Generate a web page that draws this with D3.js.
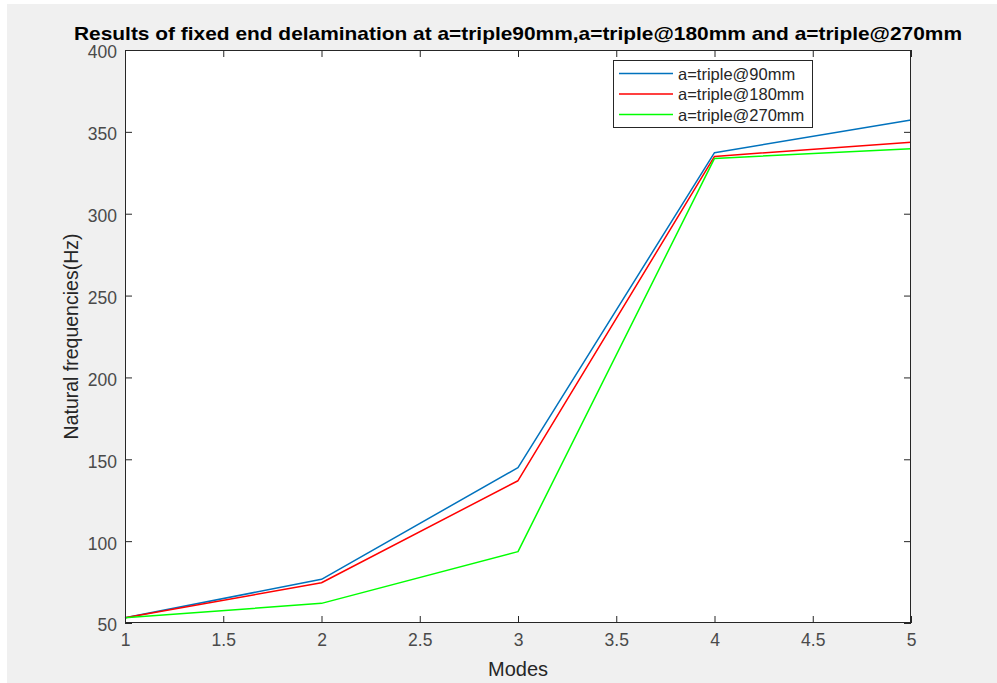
<!DOCTYPE html>
<html>
<head>
<meta charset="utf-8">
<script src="https://cdn.jsdelivr.net/npm/d3@7"></script>
<style>
  html, body { margin: 0; padding: 0; background: #ffffff; }
  svg { display: block; }
  text { font-family: "Liberation Sans", Arial, Helvetica, sans-serif; }
</style>
</head>
<body>
<svg id="chart" width="997" height="683"></svg>
<script>
// Mode numbers on the x axis
const modes = [1, 2, 3, 4, 5];
// Natural frequencies (Hz) per delamination position
const triple90  = [53.2, 76.7, 144.9, 337.3, 357.3];
const triple180 = [53.2, 74.6, 136.9, 335.0, 343.6];
const triple270 = [53.2, 62.0, 93.6, 333.8, 339.7];
const seriesNames = ["a=triple@90mm", "a=triple@180mm", "a=triple@270mm"];
const seriesColors = ["#0072bd", "#ff0000", "#00ff00"];
const xTicks = [1, 1.5, 2, 2.5, 3, 3.5, 4, 4.5, 5];
const yTicks = [50, 100, 150, 200, 250, 300, 350, 400];

const titleText = "Results of fixed end delamination at a=triple90mm,a=triple@180mm and a=triple@270mm";
const xLabel = "Modes";
const yLabel = "Natural frequencies(Hz)";

const W = 997, H = 683;
const plot = { left: 125, top: 50, right: 911, bottom: 623 };
const svg = d3.select("#chart");

// figure background
svg.append("rect").attr("x", 7).attr("y", 4).attr("width", W - 7).attr("height", H - 4).attr("fill", "#f0f0f0");

const x = d3.scaleLinear().domain([1, 5]).range([plot.left, plot.right]);
const y = d3.scaleLinear().domain([50, 400]).range([plot.bottom, plot.top]);

// axes area
svg.append("rect")
  .attr("x", plot.left).attr("y", plot.top)
  .attr("width", plot.right - plot.left).attr("height", plot.bottom - plot.top)
  .attr("fill", "#ffffff");

const axisColor = "#262626";
const tickLen = 7;

function styleAxis(g) {
  g.select(".domain").remove();
  g.selectAll(".tick line").attr("stroke", axisColor).attr("stroke-width", 1);
  g.selectAll(".tick text").attr("fill", "#4a4a4a").style("font-size", "17.5px");
}

// bottom axis with inward ticks
svg.append("g").attr("transform", `translate(0,${plot.bottom})`)
  .call(d3.axisBottom(x).tickValues(xTicks).tickFormat(d3.format("~g")).tickSizeInner(-tickLen).tickSizeOuter(0).tickPadding(tickLen + 4))
  .call(styleAxis);
// top axis ticks
svg.append("g").attr("transform", `translate(0,${plot.top})`)
  .call(d3.axisTop(x).tickValues(xTicks).tickFormat("").tickSizeInner(-tickLen).tickSizeOuter(0))
  .call(styleAxis);
// left axis
svg.append("g").attr("transform", `translate(${plot.left},0)`)
  .call(d3.axisLeft(y).tickValues(yTicks).tickSizeInner(-tickLen).tickSizeOuter(0).tickPadding(tickLen + 1))
  .call(styleAxis)
  .call(g => g.selectAll(".tick text").attr("dy", "0.45em"));
// right axis ticks
svg.append("g").attr("transform", `translate(${plot.right},0)`)
  .call(d3.axisRight(y).tickValues(yTicks).tickFormat("").tickSizeInner(-tickLen).tickSizeOuter(0))
  .call(styleAxis);

// data lines
const seriesData = [triple90, triple180, triple270];
const line = d3.line().x((d, i) => x(modes[i])).y(d => y(d));
seriesData.forEach((vals, k) => {
  svg.append("path")
    .datum(vals)
    .attr("d", line)
    .attr("fill", "none")
    .attr("stroke", seriesColors[k])
    .attr("stroke-width", 1.5)
    .attr("stroke-linejoin", "round");
});

// box outline
svg.append("rect")
  .attr("x", plot.left + 0.5).attr("y", plot.top + 0.5)
  .attr("width", plot.right - plot.left - 1).attr("height", plot.bottom - plot.top - 1)
  .attr("fill", "none").attr("stroke", axisColor).attr("stroke-width", 1);

// title
svg.append("text")
  .attr("x", (plot.left + plot.right) / 2).attr("y", 40)
  .attr("text-anchor", "middle")
  .attr("textLength", 888).attr("lengthAdjust", "spacingAndGlyphs")
  .style("font-size", "19px").style("font-weight", "bold")
  .attr("fill", "#000000")
  .text(titleText);

// axis labels
svg.append("text")
  .attr("x", (plot.left + plot.right) / 2).attr("y", 676)
  .attr("text-anchor", "middle")
  .style("font-size", "20px").attr("fill", "#262626")
  .text(xLabel);

svg.append("text")
  .attr("transform", `translate(78,${(plot.top + plot.bottom) / 2}) rotate(-90)`)
  .attr("text-anchor", "middle")
  .style("font-size", "19.5px").attr("fill", "#262626")
  .text(yLabel);

// legend
const legend = svg.append("g");
legend.append("rect")
  .attr("x", 613.5).attr("y", 60.5).attr("width", 199).attr("height", 67)
  .attr("fill", "#ffffff").attr("stroke", axisColor).attr("stroke-width", 1);
seriesNames.forEach((name, k) => {
  const ly = 73.5 + k * 20.5;
  legend.append("line")
    .attr("x1", 619).attr("x2", 673).attr("y1", ly).attr("y2", ly)
    .attr("stroke", seriesColors[k]).attr("stroke-width", 1.5);
  legend.append("text")
    .attr("x", 678).attr("y", ly + 6)
    .style("font-size", "16.5px").attr("fill", "#262626")
    .text(name);
});
</script>
</body>
</html>
